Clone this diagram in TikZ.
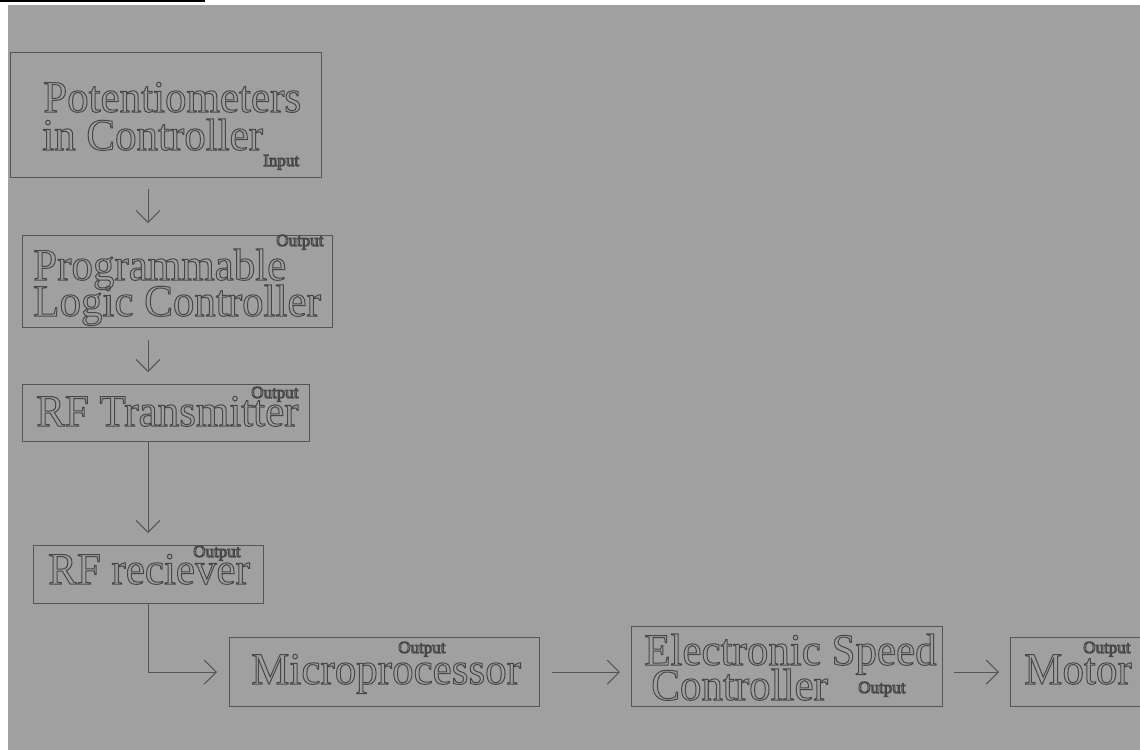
\documentclass[tikz,border=0pt]{standalone}
\usepackage{fontspec}
\setmainfont{Liberation Serif}
\newfontfamily\blkfont[FakeStretch=0.955]{Liberation Serif}
\usepackage{xcolor}
\usepackage{tikz}
\usetikzlibrary{arrows.meta, positioning, calc}
\definecolor{pageBg}{HTML}{A0A0A0}
\definecolor{inkLine}{HTML}{555555}
\definecolor{inkText}{HTML}{474747}
% stroked (hollow) letters
\newcommand{\hollow}[1]{\special{pdf:literal direct 1 Tr 0.75 w}#1\special{pdf:literal direct 0 Tr}}
\tikzset{
  blk/.style={draw=inkLine, line width=0.9pt, inner sep=0pt, anchor=north west},
  big/.style={font=\blkfont\fontsize{33.75pt}{34pt}\selectfont, text=inkText, inner sep=0pt, anchor=base west},
  tag/.style={font=\fontsize{12.75pt}{13pt}\selectfont, text=inkText, inner sep=0pt, anchor=base west},
  arr/.style={-{Straight Barb[length=9pt, width=18pt]}, draw=inkLine, line width=0.75pt},
}

\begin{document}
\begin{tikzpicture}[x=0.75pt, y=-0.75pt]
  \useasboundingbox (0,0) rectangle (1140,750);
  % page
  \fill[white] (0,0) rectangle (1140,750);
  \fill[pageBg] (8,5) rectangle (1140,750);
  \draw[black, line width=1.5pt] (0,1) -- (205,1);
  % boxes
  \node[blk, minimum width=233.25pt, minimum height=93.75pt] (pot) at (10,52) {};
  \node[blk, minimum width=232.5pt, minimum height=69pt] (plc) at (22,235) {};
  \node[blk, minimum width=215.25pt, minimum height=42.75pt] (rft) at (22,384) {};
  \node[blk, minimum width=172.5pt, minimum height=43.5pt] (rfr) at (33,545) {};
  \node[blk, minimum width=232.5pt, minimum height=51.75pt] (mic) at (229,637) {};
  \node[blk, minimum width=233.25pt, minimum height=60pt] (esc) at (631,626) {};
  \node[blk, minimum width=112.5pt, minimum height=51.75pt] (mot) at (1010,637) {};
  % labels
  \node[big] (potA) at (43,112) {\hollow{Potentiometers}};
  \node[big] (potB) at (42,150) {\hollow{in Controller}};
  \node[tag] (potIn) at (263,166) {\hollow{Input}};
  \node[big] (plcA) at (33,280) {\hollow{Programmable}};
  \node[big] (plcB) at (33,316) {\hollow{Logic Controller}};
  \node[tag] (plcOut) at (276,246) {\hollow{Output}};
  \node[big] (rftA) at (36,426) {\hollow{RF Transmitter}};
  \node[tag] (rftOut) at (251,398) {\hollow{Output}};
  \node[big] (rfrA) at (48,584) {\hollow{RF reciever}};
  \node[tag] (rfrOut) at (193,557) {\hollow{Output}};
  \node[big] (micA) at (251,684) {\hollow{Microprocessor}};
  \node[tag] (micOut) at (398,653) {\hollow{Output}};
  \node[big] (escA) at (644,665) {\hollow{Electronic Speed}};
  \node[big] (escB) at (651,700) {\hollow{Controller}};
  \node[tag] (escOut) at (858,693) {\hollow{Output}};
  \node[big] (motA) at (1024,684) {\hollow{Motor}};
  \node[tag] (motOut) at (1083,653) {\hollow{Output}};
  % connectors
  \coordinate (spine) at (148,0);
  \draw[arr, shorten <=8.25pt, shorten >=9pt] (pot.south -| spine) -- (plc.north -| spine);
  \draw[arr, shorten <=9pt, shorten >=9pt] (plc.south -| spine) -- (rft.north -| spine);
  \draw[arr, shorten >=9pt] (rft.south -| spine) -- (rfr.north -| spine);
  \draw[arr, shorten >=9pt] (rfr.south -| spine) |- (mic.west);
  \draw[arr, shorten <=9pt, shorten >=8.25pt] (mic.east) -- (mic.east -| esc.west);
  \draw[arr, shorten <=8.25pt, shorten >=8.25pt] (mot.west -| esc.east) -- (mot.west);
\end{tikzpicture}
\end{document}
